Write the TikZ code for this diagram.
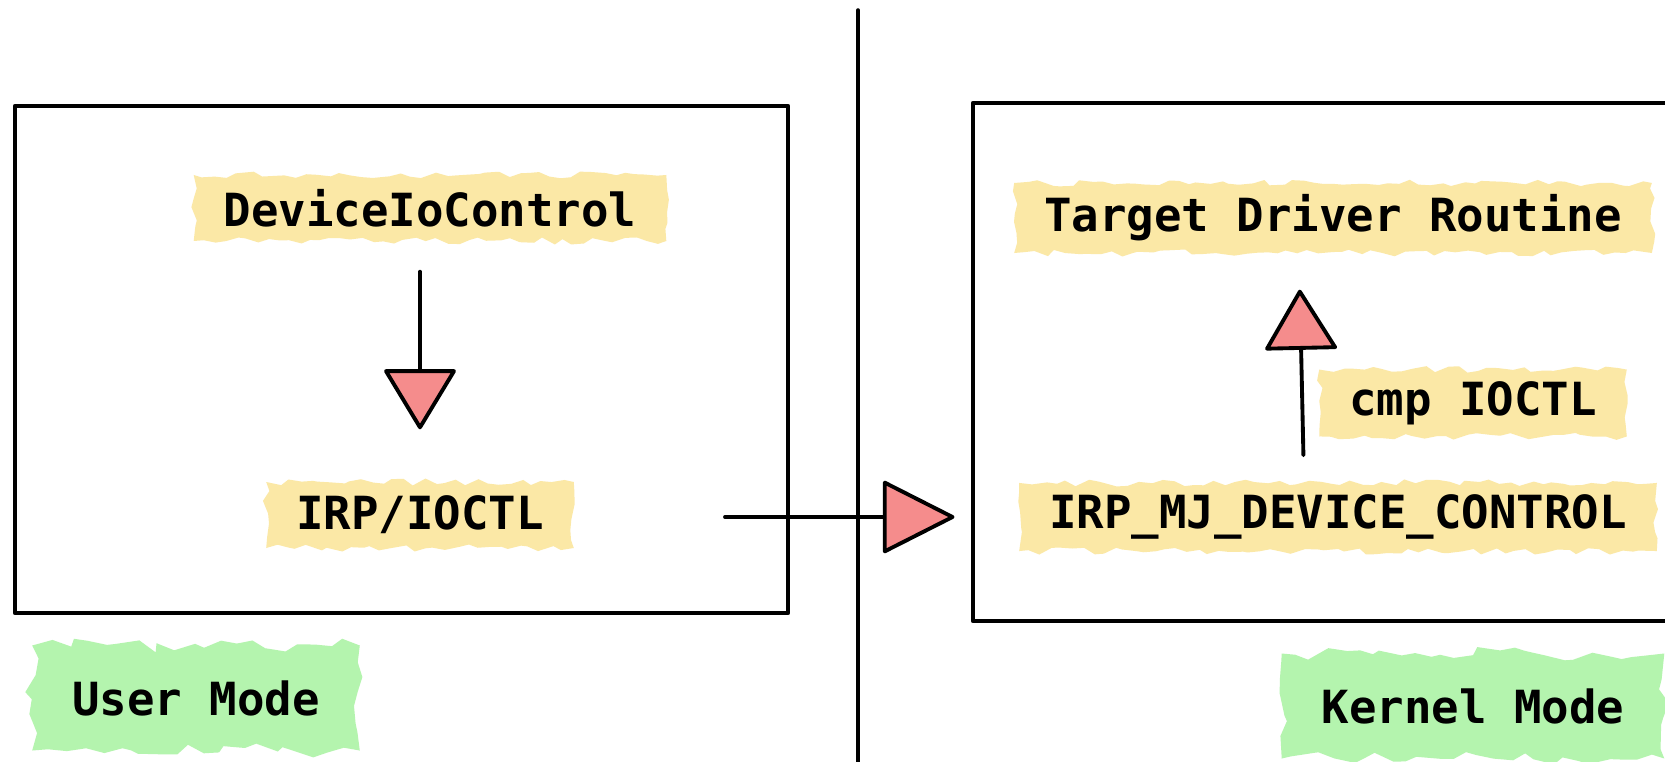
\documentclass[tikz,border=0pt]{standalone}
\usepackage{fontspec}
\newfontfamily\sketchfont{DejaVu Sans Mono}
\usetikzlibrary{arrows.meta, decorations.pathmorphing}

\definecolor{hlyellow}{HTML}{FBE8A6}
\definecolor{hlgreen}{HTML}{B4F4AE}
\definecolor{tipred}{HTML}{F58C8C}

\begin{document}
\begin{tikzpicture}[x=0.1mm, y=-0.1mm, line cap=round, line join=round,
  every node/.style={font=\sketchfont\bfseries\fontsize{13}{15}\selectfont},
  marker/.style={fill=hlyellow, inner xsep=3mm, minimum height=6.6mm,
    decorate, decoration={random steps, segment length=3pt, amplitude=1pt}},
  modemark/.style={fill=hlgreen, inner xsep=4mm, minimum height=10.5mm,
    decorate, decoration={random steps, segment length=4pt, amplitude=2pt}},
  frame/.style={draw, line width=1.3pt},
  flow/.style={draw, line width=1.1pt,
    -{Triangle[round, length=#1, width=7.4mm, fill=tipred, line width=1.1pt]}},
  flow/.default=6.2mm]
  \pgfmathsetseed{7}
  \clip (0,0) rectangle (1665,762);
  \fill[white] (0,0) rectangle (1665,762);

  % user / kernel split
  \draw[line width=1pt] (858,10) -- (858,762);
  \draw[frame] (15,106) rectangle (788,613);
  \draw[frame] (973,103) rectangle (1720,621);

  \node[marker] (dev) at (430,208) {DeviceIoControl};
  \node[marker] (irp) at (420,515) {IRP/IOCTL};
  \node[marker] (trg) at (1333,218) {Target Driver Routine};
  \node[marker] (cmp) at (1473,403) {cmp IOCTL};
  \node[marker] (mj) at (1338,517) {IRP\_MJ\_DEVICE\_CONTROL};

  \node[modemark] (user) at (196,698) {User Mode};
  \node[modemark] (kernel) at (1473,706) {Kernel Mode};

  \coordinate (exit) at (725,517);

  \draw[flow, shorten <=3mm, shorten >=5.2mm] (irp |- dev.south) -- (irp.north);
  \draw[flow=7.4mm, shorten >=6.4mm] (exit) -- (mj.west);
  \draw[flow, shorten <=2.7mm, shorten >=3.6mm] ([xshift=-3.4mm]mj.north) -- ([xshift=-3.4mm]trg.south);
\end{tikzpicture}
\end{document}
